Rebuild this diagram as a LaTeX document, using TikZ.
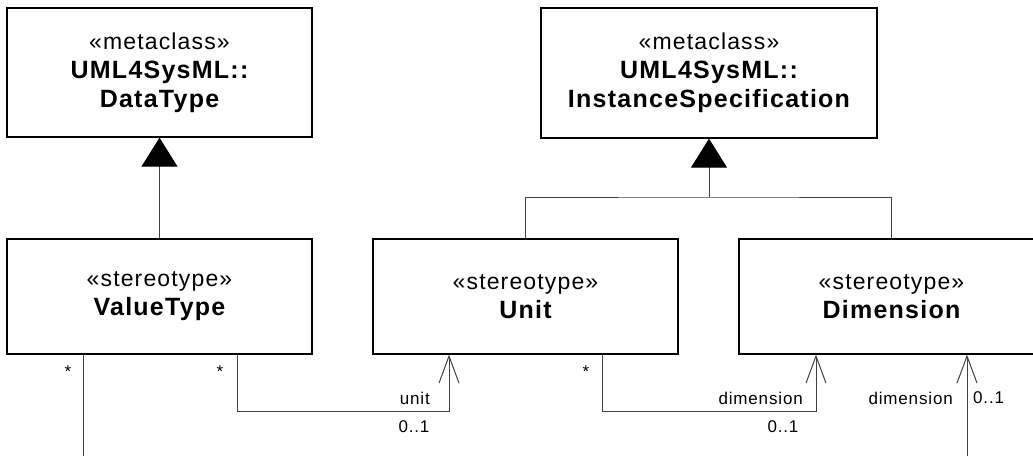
\documentclass[tikz,border=0pt]{standalone}
\usepackage{fontspec}
\setmainfont{Liberation Sans}[LetterSpace=5]
\usetikzlibrary{arrows.meta}
\newcommand{\clsname}[1]{{\bfseries\fontsize{25}{29}\selectfont #1}}

\begin{document}
\begin{tikzpicture}[x=1pt, y=-1pt, every node/.style={font=\fontsize{17}{20}\selectfont, inner sep=0pt},
    cls/.style={draw, line width=1.3pt, minimum width=305pt, minimum height=115pt, align=center, font=\fontsize{23}{29}\selectfont},
    gen/.style={draw=black!75, line width=1pt, -{Triangle[length=29pt, width=36pt, color=black]}},
    assoc/.style={draw=black!75, line width=1pt},
    nav/.style={assoc, -{Straight Barb[length=27pt, width=20pt]}}]
    \useasboundingbox (0,0) rectangle (1033,456); \clip (0,0) rectangle (1033,456);
    % metaclasses
    \node[cls, minimum height=129pt] (dt) at (159.5,72.5) {«metaclass»\\\clsname{UML4SysML::}\\\clsname{DataType}};
    \node[cls, minimum width=336pt, minimum height=130pt] (is) at (709,73) {«metaclass»\\\clsname{UML4SysML::}\\\clsname{InstanceSpecification}};
    % stereotypes
    \node[cls] (vt) at (159.5,296.5) {«stereotype»\\\clsname{ValueType}};
    \node[cls] (un) at (525.5,296.5) {«stereotype»\\\clsname{Unit}};
    \node[cls] (dm) at (891.5,296.5) {«stereotype»\\\clsname{Dimension}};
    % generalizations
    \draw[gen] (vt) -- (dt);
    \coordinate (bar) at (709,197);
    \draw[assoc] (un.north) |- (bar) -| (dm.north);
    \draw[gen] (bar) -- (is.south);
    % associations
    \draw[nav] ([xshift=77.5pt]vt.south) -- ++(0,57) -| ([xshift=-76.5pt]un.south);
    \draw[nav] ([xshift=76.5pt]un.south) -- ++(0,57) -| ([xshift=-75.5pt]dm.south);
    \coordinate (vtend) at (83,456); \coordinate (dmend) at (967,456);
    \draw[assoc] (vtend |- vt.south) -- (vtend);
    \draw[nav] (dmend) -- (dmend |- dm.south);
    % multiplicities and roles
    \node (s1) at (68,372) {*}; \node (s2) at (220,372) {*}; \node (s3) at (586,372) {*};
    \node[anchor=east] (ru) at (430,398) {unit}; \node (mu) at (414,427) {0..1};
    \node[anchor=east] (rd1) at (803,398) {dimension}; \node (md1) at (783,427) {0..1};
    \node[anchor=east] (rd2) at (953,398) {dimension}; \node[anchor=west] (md2) at (973,398) {0..1};
\end{tikzpicture}
\end{document}
